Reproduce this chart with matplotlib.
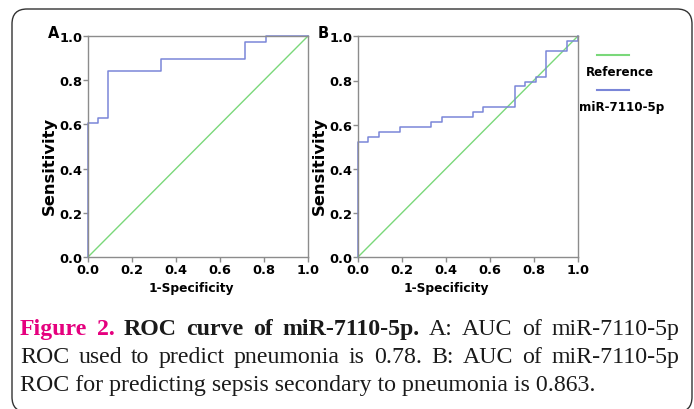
import matplotlib.pyplot as plt
from matplotlib.lines import Line2D
from matplotlib.patches import FancyBboxPatch
from matplotlib.transforms import IdentityTransform

# ROC curve A (pneumonia)
fpr_a = [0, 0, 0.045, 0.045, 0.091, 0.091, 0.333, 0.333, 0.714, 0.714, 0.81, 0.81, 1.0]
tpr_a = [0, 0.605, 0.605, 0.63, 0.63, 0.842, 0.842, 0.895, 0.895, 0.974, 0.974, 1.0, 1.0]

# ROC curve B (sepsis secondary to pneumonia)
fpr_b = [0, 0, 0.048, 0.048, 0.095, 0.095, 0.19, 0.19, 0.333, 0.333, 0.381, 0.381,
         0.524, 0.524, 0.571, 0.571, 0.714, 0.714, 0.762, 0.762, 0.81, 0.81,
         0.857, 0.857, 0.952, 0.952, 1.0, 1.0]
tpr_b = [0, 0.523, 0.523, 0.545, 0.545, 0.568, 0.568, 0.591, 0.591, 0.614, 0.614, 0.636,
         0.636, 0.659, 0.659, 0.682, 0.682, 0.773, 0.773, 0.795, 0.795, 0.818,
         0.818, 0.932, 0.932, 0.977, 0.977, 1.0]

ref_line = [0, 1]
ticks = [0.0, 0.2, 0.4, 0.6, 0.8, 1.0]
tick_labels = ["0.0", "0.2", "0.4", "0.6", "0.8", "1.0"]
series_names = ["Reference", "miR-7110-5p"]
panel_names = ["A", "B"]

caption_l1 = [("Figure", "m"), ("2.", "m"), ("ROC", "b"), ("curve", "b"), ("of", "b"),
              ("miR-7110-5p.", "b"), ("A:", "n"), ("AUC", "n"), ("of", "n"), ("miR-7110-5p", "n")]
caption_l2 = "ROC used to predict pneumonia is 0.78. B: AUC of miR-7110-5p"
caption_l3 = "ROC for predicting sepsis secondary to pneumonia is 0.863."

green = "#7ad87a"
blue = "#7a86d8"
gray = "#8c8c8c"
magenta = "#e5007e"

W, H = 694, 410
fig = plt.figure(figsize=(W / 100, H / 100), dpi=100)
plt.rcParams["font.family"] = ["DejaVu Sans"]

# outer rounded frame, in pixel coordinates
frame = FancyBboxPatch((12, -3), 680, 403, boxstyle="round,pad=0,rounding_size=15",
                       transform=IdentityTransform(), fill=False, ec="#333333", lw=1.0)
fig.add_artist(frame)

positions = [(88, 37, 220, 221), (357.7, 37.3, 220, 221)]
curves = [(fpr_a, tpr_a), (fpr_b, tpr_b)]
xlabel_shift = [-6.5, -21]

for (x0, y0, w, h), (fx, ty), name, dx in zip(positions, curves, panel_names, xlabel_shift):
    ax = fig.add_axes([x0 / W, 1 - (y0 + h) / H, w / W, h / H])
    ax.plot(ref_line, ref_line, color=green, lw=1.0, clip_on=False)
    ax.plot(fx, ty, color=blue, lw=1.1, clip_on=False)
    ax.set_xlim(0, 1)
    ax.set_ylim(0, 1)
    ax.set_xticks(ticks)
    ax.set_yticks(ticks)
    ax.set_xticklabels(tick_labels, fontweight="bold", fontsize=9.4)
    ax.set_yticklabels(tick_labels, fontweight="bold", fontsize=9.4)
    for s in ax.spines.values():
        s.set_color(gray)
        s.set_linewidth(1.0)
    ax.tick_params(direction="out", length=3.5, width=1, color=gray, pad=0.5)
    ax.set_xlabel("1-Specificity", fontweight="bold", fontsize=8.8)
    ax.xaxis.set_label_coords(0.5 + dx / w, -24 / h)
    ax.set_ylabel("Sensitivity", fontweight="bold", fontsize=11.8)
    ax.yaxis.set_label_coords(-31 / w, 1 - (166 - y0) / h)
    fig.text((x0 - 40) / W, 1 - 33 / H, name, fontweight="bold", fontsize=10.5,
             ha="left", va="center")

# legend drawn with lines above labels
fig.add_artist(Line2D([597 / W, 629 / W], [1 - 56 / H, 1 - 56 / H], color=green, lw=1.5))
fig.text(620 / W, 1 - 73 / H, series_names[0], fontweight="bold", fontsize=8.6,
         ha="center", va="center")
fig.add_artist(Line2D([597 / W, 629 / W], [1 - 91 / H, 1 - 91 / H], color=blue, lw=1.5))
fig.text(622 / W, 1 - 107 / H, series_names[1], fontweight="bold", fontsize=8.6,
         ha="center", va="center")

# caption, justified lines
fig.canvas.draw()
renderer = fig.canvas.get_renderer()
serif = ["Liberation Serif", "DejaVu Serif"]
fs = 17.2
x_left, x_right = 20, 679


def place_justified(words, baseline):
    texts = []
    for word, style in words:
        t = fig.text(0, 1 - baseline / H, word, fontsize=fs, family=serif,
                     color=magenta if style == "m" else "#1a1a1a",
                     fontweight="bold" if style in ("m", "b") else "normal",
                     va="baseline", ha="left")
        texts.append(t)
    widths = [t.get_window_extent(renderer).width for t in texts]
    gap = (x_right - x_left - sum(widths)) / (len(texts) - 1)
    x = x_left
    for t, wd in zip(texts, widths):
        t.set_x(x / W)
        x += wd + gap


place_justified(caption_l1, 335)
place_justified([(wd, "n") for wd in caption_l2.split(" ")], 363)
fig.text(x_left / W, 1 - 391 / H, caption_l3, fontsize=fs, family=serif, color="#1a1a1a",
         va="baseline", ha="left")

fig.savefig("out.png", dpi=100)
